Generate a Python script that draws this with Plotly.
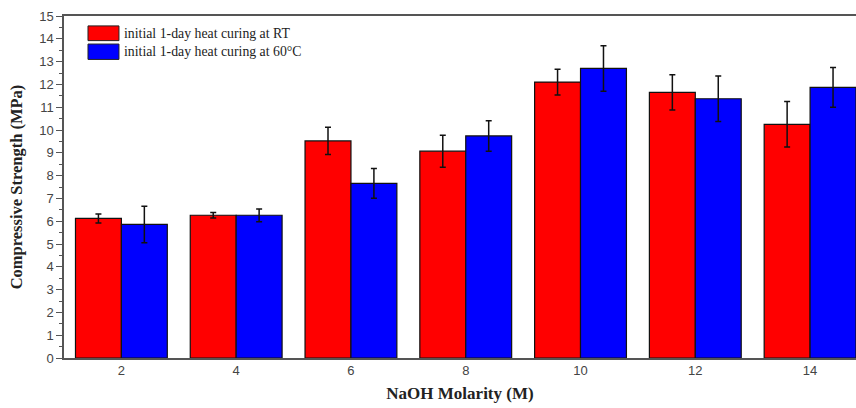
import plotly.graph_objects as go

molarity = [2, 4, 6, 8, 10, 12, 14]
series_names = ["initial 1-day heat curing at RT", "initial 1-day heat curing at 60°C"]
rt_strength = [6.12, 6.26, 9.52, 9.07, 12.10, 11.65, 10.25]
rt_error = [0.2, 0.12, 0.6, 0.7, 0.56, 0.77, 1.0]
hot_strength = [5.86, 6.26, 7.66, 9.74, 12.70, 11.37, 11.87]
hot_error = [0.8, 0.28, 0.65, 0.67, 1.0, 1.0, 0.87]
y_ticks = list(range(0, 16))
x_ticks = molarity
colors = ["#FF0000", "#0000FF"]

fig = go.Figure()
for name, vals, errs, col in [
    (series_names[0], rt_strength, rt_error, colors[0]),
    (series_names[1], hot_strength, hot_error, colors[1]),
]:
    fig.add_trace(go.Bar(
        x=molarity, y=vals, name=name,
        marker=dict(color=col, line=dict(color="#111111", width=1.2)),
        error_y=dict(type="data", array=errs, visible=True,
                     color="#111111", thickness=1.5, width=3),
        showlegend=False,
    ))

# custom legend (wide swatches like the original)
legend_rows = [(0.971, 0.928), (0.918, 0.873)]
for (y1, y0), name, col in zip(legend_rows, series_names, colors):
    fig.add_shape(type="rect", xref="paper", yref="paper",
                  x0=0.0303, x1=0.0694, y0=y0, y1=y1,
                  fillcolor=col, line=dict(color="#222222", width=1))
    fig.add_annotation(xref="paper", yref="paper", x=0.0735, y=(y0 + y1) / 2,
                       text=name, showarrow=False, xanchor="left", yanchor="middle",
                       font=dict(family="Liberation Serif", size=13.8, color="#222222"))

fig.update_layout(
    width=856, height=408,
    margin=dict(l=64, r=0, t=16, b=50),
    plot_bgcolor="white", paper_bgcolor="white",
    barmode="group", bargap=0.2, bargroupgap=0,
    xaxis=dict(
        range=[1.0, 14.8], tickvals=x_ticks, ticktext=[str(v) for v in x_ticks],
        ticks="", showgrid=False, zeroline=False,
        showline=True, linecolor="#555555", linewidth=1.5, mirror=True,
        tickfont=dict(family="Liberation Sans", size=13, color="#444444"),
        title=dict(text="<b>NaOH Molarity (M)</b>", standoff=10,
                   font=dict(family="Liberation Serif", size=17, color="#222222")),
    ),
    yaxis=dict(
        range=[0, 15], tickvals=y_ticks, ticks="outside", ticklen=6, tickwidth=1.2,
        tickcolor="#555555",
        minor=dict(dtick=0.5, ticks="outside", ticklen=3, tickcolor="#555555", showgrid=False),
        showgrid=False, zeroline=False,
        showline=True, linecolor="#555555", linewidth=1.5,
        tickfont=dict(family="Liberation Sans", size=13, color="#444444"),
        title=dict(text="<b>Compressive Strength (MPa)</b>", standoff=12,
                   font=dict(family="Liberation Serif", size=16.5, color="#222222")),
    ),
)

fig.write_html(
    "out.html",
    config={"displayModeBar": False},
    post_script="document.body.style.margin='0';document.body.style.overflow='hidden';",
)
